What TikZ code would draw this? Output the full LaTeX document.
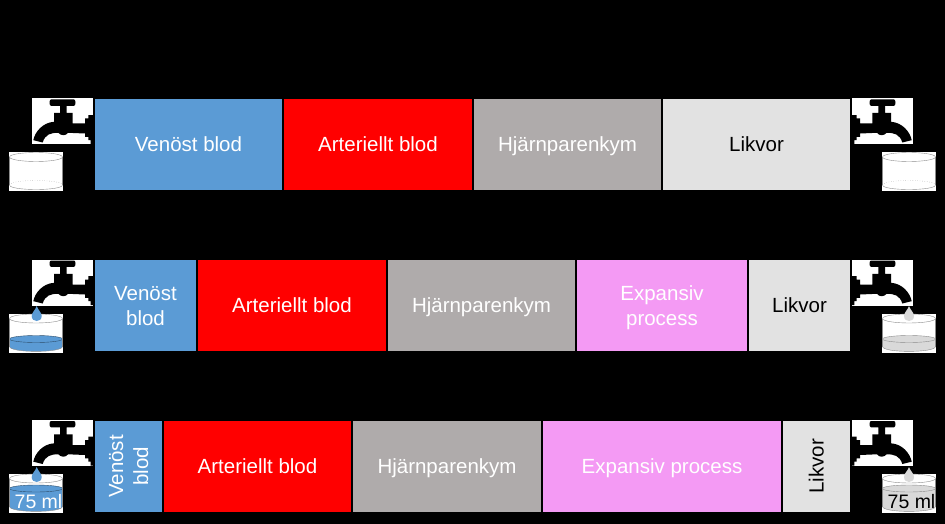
\documentclass[tikz,border=0pt]{standalone}
\usepackage{fontspec}
\setmainfont{Liberation Sans}
\usetikzlibrary{positioning}
\definecolor{venblue}{HTML}{5B9BD5}
\definecolor{hjarngray}{HTML}{AFABAB}
\definecolor{likgray}{HTML}{E2E2E2}
\definecolor{likwater}{HTML}{D9D9D9}
\definecolor{exppink}{HTML}{F49AF4}
\definecolor{rimgray}{HTML}{8C8C8C}
\newcommand{\twolines}[2]{\raisebox{0pt}[15pt][0pt]{#1}\\\raisebox{0pt}[0pt][1pt]{#2}}
\tikzset{
  oneline/.style={text height=15pt,text depth=1pt},
  block/.style={minimum height=91pt,inner sep=0pt,outer sep=0pt,align=center,text=white,font=\fontsize{20.5}{25}\selectfont},
  ven/.style={block,fill=venblue},
  art/.style={block,oneline,fill=red},
  hjarn/.style={block,oneline,fill=hjarngray},
  expa/.style={block,fill=exppink},
  lik/.style={block,oneline,fill=likgray,text=black},
  side/.style={inner sep=0pt,font=\fontsize{20.5}{25}\selectfont,align=center},
  ml/.style={inner sep=0pt,oneline,font=\fontsize{19.5}{25}\selectfont},
  pics/tap/.style={code={
    \fill[white] (0,0) rectangle (61,46);
    \fill[black] (1.3,41.7) .. controls (3,33) and (11,24) .. (22,23.3) -- (22,14.3) -- (28,14.3) -- (28,7.3)
      -- (19,7.3) .. controls (17,7.3) and (17,1) .. (19,1) -- (42,1) .. controls (44,1) and (44,7.3) .. (42,7.3)
      -- (34.7,7.3) -- (34.7,14.3) -- (40.7,14.3)
      -- (40.7,25) -- (53,25) -- (53,20) -- (56.3,20) -- (56.3,16.7) -- (61,16.7) -- (61,45.5) -- (58.7,45.5) -- (58.7,41.7)
      -- (56.3,41.7) -- (56.3,38.3) -- (53,38.3) -- (53,35) -- (36,34.3) .. controls (34,37.5) and (29,37.5) .. (26.3,34.3)
      .. controls (19,34) and (13,36) .. (10.7,44) -- cycle;
  }},
  pics/bucket/.style={code={
    \fill[white] (0,0) rectangle (54,39);
    \draw[rimgray,dotted] (0.5,33) .. controls (0.5,27) and (53.5,27) .. (53.5,33);
    \draw[rimgray] (0.5,33) .. controls (0.5,39) and (53.5,39) .. (53.5,33);
    \draw[rimgray] (0.5,5) -- (0.5,33) (53.5,5) -- (53.5,33);
    \draw[rimgray] (27,5) ellipse[x radius=26.5,y radius=4.5];
  }},
  pics/water/.style n args={3}{code={
    \fill[white] (0,0) rectangle (54,39);
    \fill[#1] (0.5,#2) -- (0.5,33) .. controls (0.5,39.5) and (53.5,39.5) .. (53.5,33) -- (53.5,#2) -- cycle;
    \draw[#3,fill=#1] (27,#2) ellipse[x radius=26.5,y radius=3.5];
    \draw[rimgray] (0.5,5) -- (0.5,33) (53.5,5) -- (53.5,33);
    \draw[rimgray] (0.5,33) .. controls (0.5,39.5) and (53.5,39.5) .. (53.5,33);
    \draw[rimgray] (27,5) ellipse[x radius=26.5,y radius=4.5];
  }},
  pics/drop/.style={code={
    \fill[#1] (0,-7.5) .. controls (1,-4) and (5,-1) .. (5,2.5) .. controls (5,9.2) and (-5,9.2) .. (-5,2.5) .. controls (-5,-1) and (-1,-4) .. cycle;
  }}
}
\begin{document}
\begin{tikzpicture}[x=1pt,y=-1pt]
  \useasboundingbox (0,0) rectangle (945,524);
  \fill[black] (0,0) rectangle (945,524);
  % Row 1: normal volumes
  \begin{scope}
    \pic at (32,98.5) {tap};
    \pic[xscale=-1] at (913,98.5) {tap};
    \pic at (9,152) {bucket};
    \pic at (882,152) {bucket};
    \node[ven,oneline,minimum width=187pt,anchor=north west] (ven1) at (95,99) {Venöst blod};
    \node[art,minimum width=188pt,right=2pt of ven1] (art1) {Arteriellt blod};
    \node[hjarn,minimum width=187pt,right=2pt of art1] (hjarn1) {Hjärnparenkym};
    \node[lik,minimum width=187pt,right=2pt of hjarn1] (lik1) {Likvor};
  \end{scope}
  % Row 2: small expansive process
  \begin{scope}[shift={(0,161)}]
    \pic at (32,98.5) {tap};
    \pic[xscale=-1] at (913,98.5) {tap};
    \pic at (9,152.5) {water={venblue}{25.5}{venblue!50!black}};
    \pic at (882,152.5) {water={likwater}{25.5}{rimgray}};
    \pic at (36.7,152.5) {drop=venblue};
    \pic at (909,152.5) {drop=likwater};
    \node[ven,minimum width=101pt,anchor=north west] (ven2) at (95,99) {\twolines{Venöst}{blod}};
    \node[art,minimum width=188pt,right=2pt of ven2] (art2) {Arteriellt blod};
    \node[hjarn,minimum width=187pt,right=2pt of art2] (hjarn2) {Hjärnparenkym};
    \node[expa,minimum width=170pt,right=2pt of hjarn2] (expa2) {\twolines{Expansiv}{process}};
    \node[lik,minimum width=101pt,right=2pt of expa2] (lik2) {Likvor};
  \end{scope}
  % Row 3: large expansive process
  \begin{scope}[shift={(0,322)}]
    \pic at (32,98) {tap};
    \pic[xscale=-1] at (913,98) {tap};
    \pic at (9,151.5) {water={venblue}{15}{venblue!50!black}};
    \pic at (882,151.5) {water={likwater}{15}{rimgray}};
    \pic at (36.7,152.5) {drop=venblue};
    \pic at (909,152.5) {drop=likwater};
    \node[ml,text=white] (ml1) at (38.5,179) {75 ml};
    \node[ml,text=black] (ml2) at (911.5,179) {75 ml};
    \node[ven,minimum width=67pt,anchor=north west] (ven3) at (95,99) {};
    \node[art,minimum width=187pt,right=2pt of ven3] (art3) {Arteriellt blod};
    \node[hjarn,minimum width=188pt,right=2pt of art3] (hjarn3) {Hjärnparenkym};
    \node[expa,oneline,minimum width=238pt,right=2pt of hjarn3] (expa3) {Expansiv process};
    \node[lik,minimum width=67pt,right=2pt of expa3] (lik3) {};
    \node[side,rotate=90,text=white] (venlabel3) at (ven3) {\twolines{Venöst}{blod}};
    \node[side,oneline,rotate=90,text=black] (liklabel3) at (lik3) {Likvor};
  \end{scope}
\end{tikzpicture}
\end{document}
